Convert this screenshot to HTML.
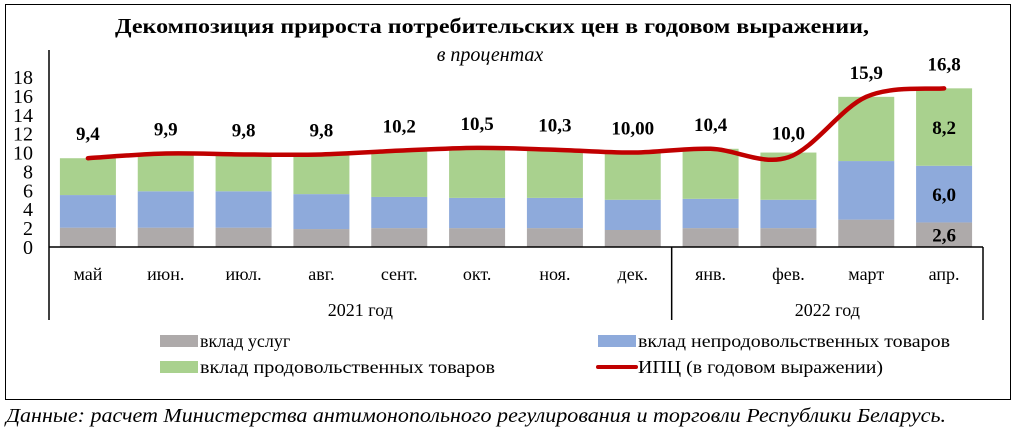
<!DOCTYPE html>
<html><head><meta charset="utf-8"><style>
body{margin:0;background:#fff;width:1018px;height:437px;overflow:hidden;font-family:"Liberation Serif","DejaVu Serif",serif}
svg text{font-family:"Liberation Serif","Times New Roman","DejaVu Serif",serif}
</style></head><body>
<svg id="chart" width="1018" height="437" xmlns="http://www.w3.org/2000/svg" font-family="Liberation Serif, DejaVu Serif, serif">
<rect x="5.5" y="4.5" width="1005" height="395" fill="#fff" stroke="#000" stroke-width="1"/>
<text x="492" y="33" text-anchor="middle" font-size="21" font-weight="bold" textLength="754" lengthAdjust="spacingAndGlyphs">Декомпозиция прироста потребительских цен в годовом выражении,</text>
<text x="490" y="61" text-anchor="middle" font-size="20" font-style="italic">в процентах</text>
<g id="plot"></g>
<g>
<rect x="160" y="335" width="38" height="12" fill="#aeaaaa"/>
<text x="200" y="347" font-size="18">вклад услуг</text>
<rect x="598" y="335" width="38" height="12" fill="#8eaadb"/>
<text x="638" y="347" font-size="18" textLength="312" lengthAdjust="spacingAndGlyphs">вклад непродовольственных товаров</text>
<rect x="160" y="361" width="38" height="12" fill="#a9d18e"/>
<text x="200" y="373" font-size="18" textLength="295" lengthAdjust="spacingAndGlyphs">вклад продовольственных товаров</text>
<line x1="598" y1="367" x2="636" y2="367" stroke="#c00000" stroke-width="4" stroke-linecap="round"/>
<text x="638" y="373" font-size="18" textLength="245" lengthAdjust="spacingAndGlyphs">ИПЦ (в годовом выражении)</text>
</g>
<text x="6" y="422" font-size="20" font-style="italic" textLength="940" lengthAdjust="spacingAndGlyphs">Данные: расчет Министерства антимонопольного регулирования и торговли Республики Беларусь.</text>
</svg>
<script>
const months=["май","июн.","июл.","авг.","сент.","окт.","ноя.","дек.","янв.","фев.","март","апр."];
const services=[2.05,2.05,2.05,1.9,2.0,2.0,2.0,1.8,2.0,2.0,2.9,2.6];
const nonfood=[3.45,3.85,3.85,3.7,3.3,3.2,3.2,3.2,3.1,3.0,6.2,6.0];
const food=[3.9,4.0,3.9,4.2,4.9,5.3,5.1,5.0,5.3,5.0,6.8,8.2];
const cpi=[9.4,9.9,9.8,9.8,10.2,10.5,10.3,10.0,10.4,9.5,15.9,16.8];
const cpiLabels=["9,4","9,9","9,8","9,8","10,2","10,5","10,3","10,00","10,4","10,0","15,9","16,8"];
const yTicks=[0,2,4,6,8,10,12,14,16,18];
const years=["2021 год","2022 год"];
const NS="http://www.w3.org/2000/svg";
const g=document.getElementById("plot");
const x0=49,x1=983,y0=247,yTop=77,yMax=18;
const step=(x1-x0)/months.length,bw=56;
const X=i=>x0+step*(i+0.5);
const Y=v=>y0-(v/yMax)*(y0-yTop);
function mk(t,a){const e=document.createElementNS(NS,t);for(const k in a)e.setAttribute(k,a[k]);g.appendChild(e);return e;}
yTicks.forEach(v=>{const t=mk("text",{x:33,y:Y(v)+7,"text-anchor":"end","font-size":20});t.textContent=v;

});
const cols=["#aeaaaa","#8eaadb","#a9d18e"],names=["services","nonfood","food"];
months.forEach((m,i)=>{let base=0;[services,nonfood,food].forEach((s,k)=>{const r=mk("rect",{x:X(i)-bw/2,y:Y(base+s[i]),width:bw,height:Y(base)-Y(base+s[i]),fill:cols[k]});

base+=s[i];});
const t=mk("text",{x:X(i),y:280,"text-anchor":"middle","font-size":18});t.textContent=m;


const l=mk("text",{x:X(i),y:Y(cpi[i])-18,"text-anchor":"middle","font-size":19,"font-weight":"bold"});l.textContent=cpiLabels[i];

});
const last=months.length-1;
[[services[last]/2,"2,6"],[services[last]+nonfood[last]/2,"6,0"],[services[last]+nonfood[last]+food[last]/2,"8,2"]].forEach(([v,s])=>{const t=mk("text",{x:X(last),y:Y(v)+7,"text-anchor":"middle","font-size":19,"font-weight":"bold"});t.textContent=s;

});
const ax=mk("path",{d:`M${x0} ${y0}H${x1}M${x0} 50V320M${x0+step*8} ${y0}V320M${x1} ${y0}V320`,stroke:"#000","stroke-width":1.5,fill:"none"});


[[0,8],[8,12]].forEach(([a,b],k)=>{const t=mk("text",{x:x0+step*(a+b)/2,y:316,"text-anchor":"middle","font-size":18});t.textContent=years[k];

});
const pts=cpi.map((v,i)=>[X(i),Y(v)]);
let d=`M${pts[0][0]} ${pts[0][1]}`;
for(let i=0;i<pts.length-1;i++){const p0=pts[i-1]||pts[i],p1=pts[i],p2=pts[i+1],p3=pts[i+2]||p2;
d+=`C${p1[0]+(p2[0]-p0[0])/6} ${p1[1]+(p2[1]-p0[1])/6} ${p2[0]-(p3[0]-p1[0])/6} ${p2[1]-(p3[1]-p1[1])/6} ${p2[0]} ${p2[1]}`;}
const ln=mk("path",{d:d,stroke:"#c00000","stroke-width":4.5,fill:"none","stroke-linecap":"round"});


</script>
</body></html>
